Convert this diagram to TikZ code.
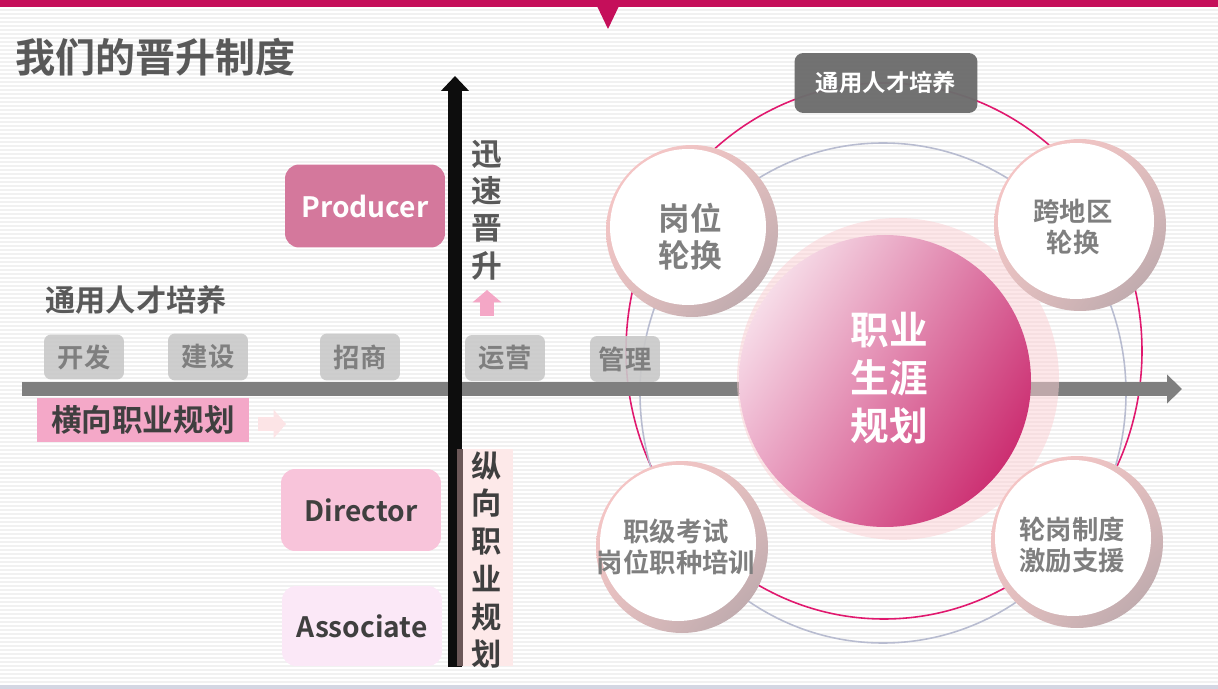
\documentclass[tikz,border=0pt]{standalone}
\usepackage{fontspec}
\setmainfont{Noto Sans CJK SC}[BoldFont={Noto Sans CJK SC Bold}]
\usetikzlibrary{arrows.meta,shadings}
\definecolor{topred}{HTML}{C50F5A}
\definecolor{titlegray}{HTML}{595959}
\definecolor{boxgray}{HTML}{C9C9C9}
\definecolor{labelgray}{HTML}{7F7F7F}
\definecolor{darktext}{HTML}{3F3F3F}
\definecolor{axisgray}{HTML}{7F7F7F}
\definecolor{hpink}{HTML}{F4A8C8}
\definecolor{arrowpink}{HTML}{F4A7C6}
\definecolor{fadepink}{HTML}{FCE4E6}
\definecolor{producerfill}{HTML}{D4789C}
\definecolor{directorfill}{HTML}{F8C4DA}
\definecolor{associatefill}{HTML}{FBE8F7}
\definecolor{vpink}{HTML}{FDE9E9}
\definecolor{vstrip}{HTML}{6B5757}
\definecolor{ringline}{HTML}{E0186E}
\definecolor{lavline}{HTML}{B8BCD0}
\definecolor{halopink}{HTML}{FBCFD3}
\definecolor{coredark}{HTML}{C40F5B}
\definecolor{coreupright}{HTML}{D9689A}
\definecolor{corelowleft}{HTML}{E89BBE}
\definecolor{corelight}{HTML}{FFFFFF}
\definecolor{ringpink}{HTML}{FCC8C8}
\definecolor{ringmid}{HTML}{E4C0C0}
\definecolor{ringmauve}{HTML}{B3A4A8}
\definecolor{darkbox}{HTML}{6D6D6D}
\definecolor{stripegray}{HTML}{F1F1F1}
\newcommand{\fsz}[2]{\fontsize{#1}{#2}\selectfont}
\begin{document}
\begin{tikzpicture}[x=0.02cm,y=-0.02cm,
    every node/.style={inner sep=0pt},
    graybox/.style={fill=boxgray, fill opacity=0.9, text opacity=1, rounded corners=4pt, minimum width=1.6cm, minimum height=0.9cm, text=labelgray, font=\bfseries\fsz{15}{18}},
    levelbox/.style={rounded corners=8pt, minimum width=3.2cm, minimum height=1.66cm, font=\bfseries\fsz{16}{19}},
    vtext/.style={align=center, text=titlegray, font=\bfseries\fsz{17.5}{21.3}},
    ring/.style={upper left=ringpink, lower right=ringmauve, upper right=ringmid, lower left=ringmid},
    ringtext/.style={text=labelgray, align=center, font=\bfseries\fsz{15}{18}},
    blockarrow/.style={line width=8pt, -{Triangle[length=7pt,width=16pt]}}]
\useasboundingbox (0,0) rectangle (1218,689);
\foreach \y in {10,14,...,682} \draw[stripegray, line width=1pt] (0,\y) -- (1218,\y);
\fill[topred] (0,0) rectangle (1218,7);
\fill[topred] (597,6) -- (619,6) -- (608,29) -- cycle;
\fill[lavline!60] (0,685) rectangle (1218,689);
\node[anchor=west, text=titlegray, font=\bfseries\fsz{22.8}{26}] (title) at (15,57) {我们的晋升制度};

% right side circles
\draw[ringline, line width=0.9pt] (884,351) ellipse [x radius=258, y radius=268];
\draw[lavline, line width=0.9pt] (883,393) ellipse [x radius=243, y radius=250];

% axes
\coordinate (hstart) at (22,389);
\coordinate (hend) at (1182,389);
\draw[axisgray, line width=7.9pt, -{Triangle[length=8.5pt,width=16pt]}] (hstart) -- (hend);
\fill[halopink, opacity=0.5] (898,379) circle (161);
\shade[upper left=corelight, lower right=coredark, upper right=coreupright, lower left=corelowleft] (885,381) circle (146);
\node[align=center, text=white, font=\bfseries\fsz{22}{27.5}] (career) at (889,378) {职业\\生涯\\规划};

\shade[ring] (692,231) circle (86);
\fill[white] (688,227) circle (78);
\node[ringtext, font=\bfseries\fsz{18}{21}] (rotate) at (690,237) {岗位\\轮换};
\shade[ring] (1080,225) circle (86);
\fill[white] (1076,221) circle (78);
\node[ringtext] (region) at (1073,227) {跨地区\\轮换};
\shade[ring] (682,547) circle (86);
\fill[white] (678,543) circle (78);
\node[ringtext] (exam) at (676,547) {职级考试\\岗位职种培训};
\shade[ring] (1077,542) circle (86);
\fill[white] (1073,538) circle (78);
\node[ringtext] (support) at (1072,545) {轮岗制度\\激励支援};

\node[fill=darkbox, fill opacity=0.97, text opacity=1, rounded corners=5pt, minimum width=3.66cm, minimum height=1.2cm, text=white, font=\bfseries\fsz{13.3}{16}] (topbox) at (886,83) {通用人才培养};

% left side
\node[anchor=west, text=titlegray, font=\bfseries\fsz{17.2}{20}] (general) at (45,300) {通用人才培养};
\node[graybox] (dev) at (84,357) {开发};
\node[graybox, minimum height=0.94cm] (build) at (208,357) {建设};
\node[graybox, minimum height=0.94cm] (invest) at (360,357) {招商};
\node[graybox, minimum height=0.92cm] (operate) at (505,358) {运营};
\node[graybox, minimum width=1.4cm, minimum height=0.92cm] (manage) at (625,359) {管理};
\node[fill=hpink, minimum width=4.26cm, minimum height=0.88cm, text=darktext, font=\bfseries\fsz{17.4}{20}] (horiz) at (143,420) {横向职业规划};
\coordinate (fadestart) at (258,424);
\coordinate (fadeend) at (286,424);
\draw[fadepink, blockarrow] (fadestart) -- (fadeend);

\node[levelbox, fill=producerfill, text=white] (producer) at (365,206) {Producer};
\node[levelbox, fill=directorfill, text=darktext, minimum height=1.64cm] (director) at (361,510) {Director};
\node[levelbox, fill=associatefill, text=darktext, minimum height=1.6cm] (associate) at (362,626) {Associate};

\fill[vpink] (463,449) rectangle (513,666);
\coordinate (vstart) at (455,667);
\coordinate (vend) at (455,76);
\draw[black!95, line width=7.9pt, -{Triangle[length=8.5pt,width=15.5pt]}] (vstart) -- (vend);
\fill[vstrip] (457,449) rectangle (463,666);
\node[vtext] (fast) at (487,210) {迅\\速\\晋\\升};
\coordinate (upstart) at (487,316);
\coordinate (upend) at (487,290);
\draw[arrowpink, blockarrow] (upstart) -- (upend);
\node[vtext, text=darktext, font=\bfseries\fsz{17.2}{21.5}] (vert) at (487,560) {纵\\向\\职\\业\\规\\划};
\end{tikzpicture}
\end{document}
